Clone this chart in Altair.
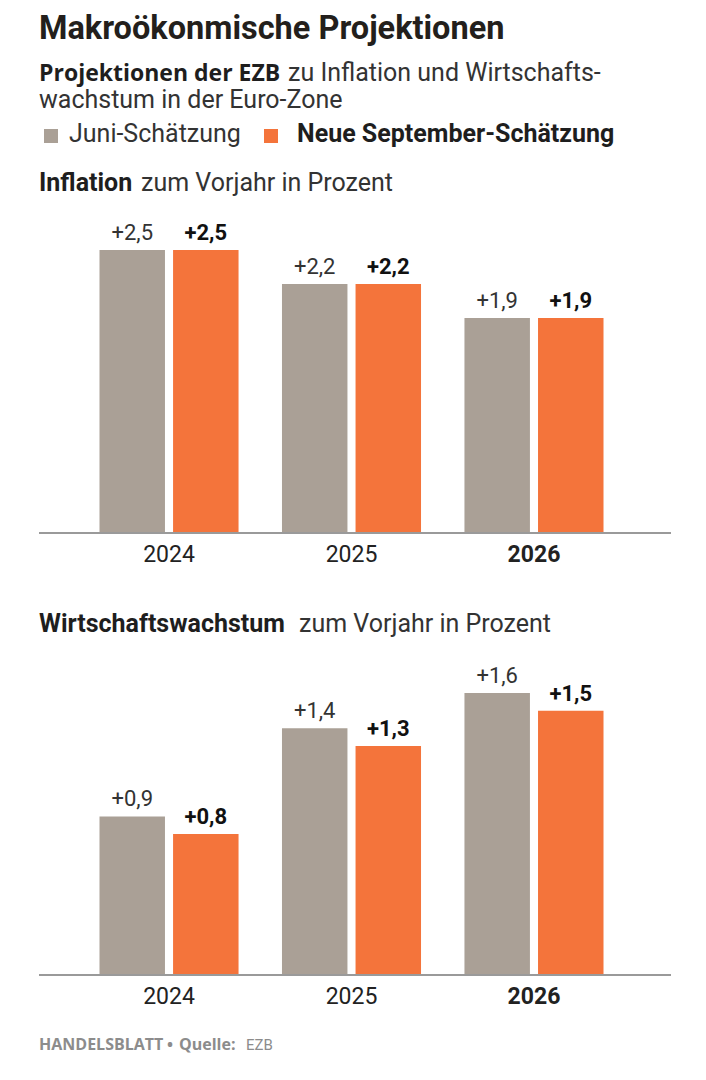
import altair as alt
import pandas as pd

# ---------------- data ----------------
years = ["2024", "2025", "2026"]
series = ["Juni-Schätzung", "Neue September-Schätzung"]
inflation_juni = [2.5, 2.2, 1.9]
inflation_sept = [2.5, 2.2, 1.9]
growth_juni = [0.9, 1.4, 1.6]
growth_sept = [0.8, 1.3, 1.5]
colors = ["#aaa096", "#f4743b"]

title_text = "Makroökonmische Projektionen"
subtitle_bold = "Projektionen der EZB"
subtitle_rest = "zu Inflation und Wirtschafts-"
subtitle_line2 = "wachstum in der Euro-Zone"
panel1_bold = "Inflation"
panel1_rest = "zum Vorjahr in Prozent"
panel2_bold = "Wirtschaftswachstum"
panel2_rest = "zum Vorjahr in Prozent"
footer_parts = ["HANDELSBLATT", "•", "Quelle:", "EZB"]

BODY = "Roboto"
WIDE_BOLD = "Open Sans"
TITLE_FONT = "Roboto"
W = 632


def txt(text, x, y, size, weight="normal", color="#2a2a2a", font=BODY):
    return alt.Chart(pd.DataFrame({"t": [text]})).mark_text(
        align="left", baseline="alphabetic", fontSize=size,
        fontWeight=weight, color=color, font=font
    ).encode(x=alt.value(x), y=alt.value(y), text="t:N")


def square(label, color, x, y):
    return alt.Chart(pd.DataFrame({"s": [label]})).mark_square(
        size=196, color=color, filled=True, opacity=1
    ).encode(x=alt.value(x), y=alt.value(y))


header = alt.layer(
    txt(title_text, 0, 31, 32.5, "bold", "#231f1c", TITLE_FONT),
    txt(subtitle_bold, 0, 73, 23, "bold", "#1e1e1e", WIDE_BOLD),
    txt(subtitle_rest, 249, 73, 25, "normal", "#333333"),
    txt(subtitle_line2, 0, 100, 25, "normal", "#333333"),
    square(series[0], colors[0], 12, 128),
    txt(series[0], 30, 134, 25, "normal", "#333333"),
    square(series[1], colors[1], 232, 128),
    txt(series[1], 258, 134, 25, "bold", "#1e1e1e"),
).properties(width=W, height=150)


def panel(vals_j, vals_s, dmax, height, tb, tr, tr_x, title_y):
    df = pd.DataFrame({
        "year": years * 2,
        "series": [series[0]] * 3 + [series[1]] * 3,
        "value": vals_j + vals_s,
    })
    base = alt.Chart(df).encode(
        x=alt.X(
            "year:N", sort=years,
            scale=alt.Scale(paddingInner=0.238, paddingOuter=0.3315, range=[0, 625]),
            axis=alt.Axis(
                title=None, domain=False, ticks=False, tickSize=0,
                labelPadding=10, labelFontSize=23, labelFont=BODY,
                labelColor="#222222", labelAngle=0,
                labelFontWeight={"condition": {"test": "datum.value === '2026'", "value": "bold"}, "value": "normal"},
            ),
        ),
        xOffset=alt.XOffset("series:N", sort=series, scale=alt.Scale(paddingInner=0.11)),
        y=alt.Y("value:Q", scale=alt.Scale(domain=[0, dmax], nice=False, zero=True), axis=None),
    )
    bars = base.mark_bar().encode(
        color=alt.Color("series:N", scale=alt.Scale(domain=series, range=colors), legend=None)
    )
    label_expr = "'+' + replace(format(datum.value, '.1f'), '.', ',')"
    lab_j = base.transform_filter(alt.datum.series == series[0]).transform_calculate(
        label=label_expr
    ).mark_text(dy=-10, baseline="alphabetic", fontSize=22, font=BODY, color="#333333").encode(text="label:N")
    lab_s = base.transform_filter(alt.datum.series == series[1]).transform_calculate(
        label=label_expr
    ).mark_text(dy=-10, baseline="alphabetic", fontSize=22, font=BODY, fontWeight="bold", color="#111111").encode(text="label:N")
    rule = alt.Chart(pd.DataFrame({"a": [0]})).mark_rule(color="#9a9a9a", strokeWidth=2).encode(
        x=alt.value(0), x2=alt.value(W), y=alt.value(height)
    )
    layers = [bars, rule, lab_j, lab_s,
              txt(tb, 0, title_y, 25, "bold", "#1e1e1e"),
              txt(tr, tr_x, title_y, 25, "normal", "#333333")]
    return alt.layer(*layers).properties(width=W, height=height)


FOOT = "#8c8c8c"
chart1 = panel(inflation_juni, inflation_sept, 375 / 113.2, 375,
               panel1_bold, panel1_rest, 102, 33)
chart2 = panel(growth_juni, growth_sept, 442 / 176.25, 442,
               panel2_bold, panel2_rest, 260, 99)
footer = alt.layer(
    txt(footer_parts[0], 0, 75, 16, "bold", FOOT, WIDE_BOLD),
    txt(footer_parts[1], 128, 75, 16, "bold", FOOT, WIDE_BOLD),
    txt(footer_parts[2], 140, 75, 16, "bold", FOOT, WIDE_BOLD),
    txt(footer_parts[3], 207, 75, 15, "normal", FOOT),
).properties(width=W, height=90)

chart = alt.vconcat(header, chart1, chart2, footer, spacing=0, bounds="flush").properties(
    padding={"left": 30, "top": 0, "right": 0, "bottom": 0},
    background="white",
).configure_view(stroke=None)

chart.save("out.html", embed_options={"renderer": "svg", "actions": False})
